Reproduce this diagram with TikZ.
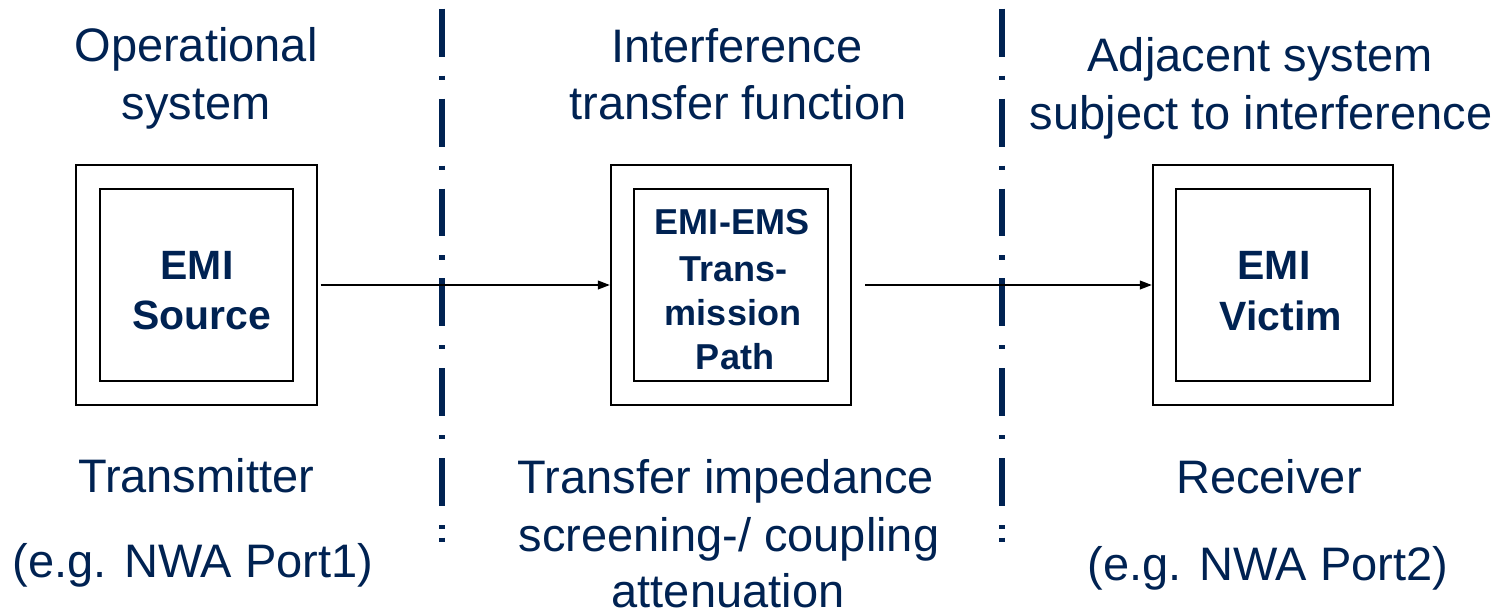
\documentclass[tikz,border=0pt]{standalone}
\usepackage{fontspec}
\setmainfont{Liberation Sans}
\usetikzlibrary{arrows.meta,positioning}
\definecolor{emiblue}{RGB}{0,34,82}

\begin{document}
\begin{tikzpicture}[
  x={(0.02cm,0cm)},
  y={(0cm,-0.02cm)},
  outerbox/.style={draw,line width=1.1pt,minimum width=4.81cm,minimum height=4.8cm,inner sep=0pt},
  innerbox/.style={draw,line width=1.1pt,minimum width=3.87cm,minimum height=3.84cm,inner sep=0pt},
  caption/.style={anchor=base,inner sep=0pt,text=emiblue,font=\fontsize{26.75}{30}\selectfont},
  boxlabel/.style={anchor=base,inner sep=0pt,text=emiblue,font=\bfseries\fontsize{23.3}{28}\selectfont},
  pathlabel/.style={boxlabel,font=\bfseries\fontsize{20.5}{25}\selectfont},
  flow/.style={-{Triangle[length=6.8pt,width=5pt]},line width=0.8pt},
  border/.style={emiblue,line width=3.2pt}]
\useasboundingbox (0,0) rectangle (1504,613);
% zone borders (dash-dot)
\foreach \xd in {442,1002}{
  \draw[border,dash pattern=on 27.3pt off 10.8pt on 2.3pt off 10.8pt] (\xd,8.6) -- (\xd,530);
  \draw[border] (\xd,537.5) -- (\xd,541.5);
}
% the three blocks
\node[outerbox] (src) at (196.5,285) {};
\node[innerbox] (srcin) at (src.center) {};
\node[outerbox] (path) at (731,285) {};
\node[innerbox] (pathin) at (path.center) {};
\node[outerbox] (vic) at (1273,285) {};
\node[innerbox] (vicin) at (vic.center) {};
% block labels
\node[boxlabel] (srcA) at (197,279) {EMI};
\node[boxlabel] (srcB) at (202,329) {Source};
\node[pathlabel] (pathA) at (732,234) {EMI-EMS};
\node[pathlabel] (pathB) at (733.5,281) {Trans-};
\node[pathlabel] (pathC) at (733,325) {mission};
\node[pathlabel] (pathD) at (735,369) {Path};
\node[boxlabel] (vicA) at (1274,279) {EMI};
\node[boxlabel] (vicB) at (1281,330) {Victim};
% coupling arrows
\draw[flow,shorten <=1.7pt] (src.east) -- (path.west);
\draw[flow,shorten <=7.4pt] (path.east) -- (vic.west);
% headings
\node[caption] (op1) at (196,61) {Operational};
\node[caption] (op2) at (196,119) {system};
\node[caption] (itf1) at (737,62) {Interference};
\node[caption] (itf2) at (738,119) {transfer function};
\node[caption] (adj1) at (1260,71) {Adjacent system};
\node[caption] (adj2) at (1261,129) {subject to interference};
% lower captions
\node[caption] (tx1) at (196,492) {Transmitter};
\node[caption] (tx2) at (193,577) {(e.g. NWA Port1)};
\node[caption] (tf1) at (726,493) {Transfer impedance};
\node[caption] (tf2) at (729,551) {screening-/ coupling};
\node[caption] (tf3) at (728,607) {attenuation};
\node[caption] (rx1) at (1269,493) {Receiver};
\node[caption] (rx2) at (1268,580) {(e.g. NWA Port2)};
\end{tikzpicture}
\end{document}
